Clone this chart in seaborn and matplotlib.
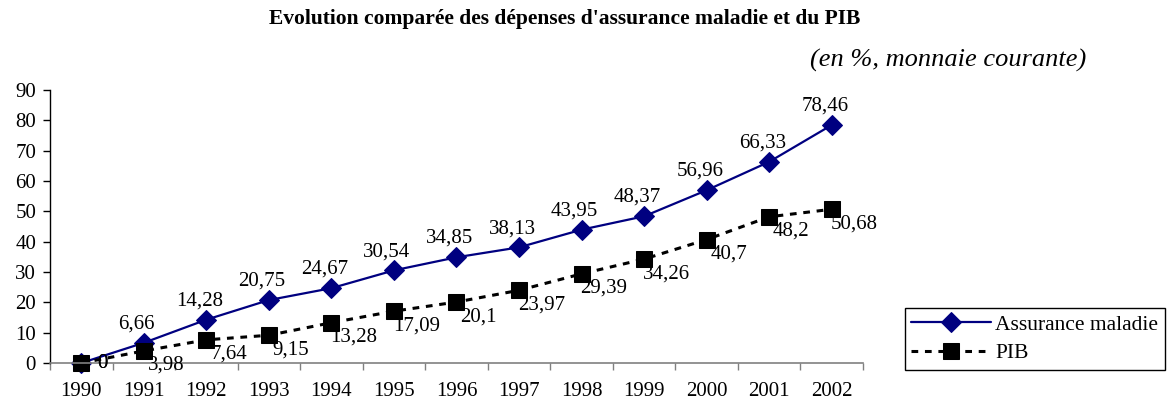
import numpy as np
import pandas as pd
import seaborn as sns
import matplotlib.pyplot as plt

# data
years = ["1990", "1991", "1992", "1993", "1994", "1995", "1996",
         "1997", "1998", "1999", "2000", "2001", "2002"]
assurance = [0, 6.66, 14.28, 20.75, 24.67, 30.54, 34.85,
             38.13, 43.95, 48.37, 56.96, 66.33, 78.46]
pib = [0, 3.98, 7.64, 9.15, 13.28, 17.09, 20.1,
       23.97, 29.39, 34.26, 40.7, 48.2, 50.68]
yticks = [0, 10, 20, 30, 40, 50, 60, 70, 80, 90]

sns.set_style("white")
plt.rcParams['font.family'] = ['Liberation Serif', 'DejaVu Serif']
plt.rcParams['text.color'] = 'black'
plt.rcParams['xtick.color'] = 'black'
plt.rcParams['ytick.color'] = 'black'
plt.rcParams['axes.labelcolor'] = 'black'

df = pd.DataFrame({"pos": np.arange(len(years)), "year": years,
                   "Assurance maladie": assurance, "PIB": pib})

fig = plt.figure(figsize=(11.7, 4.03), dpi=100)
ax = fig.add_axes([50 / 1170, 40 / 403, 813 / 1170, 273 / 403])

sns.lineplot(data=df, x="pos", y="Assurance maladie", ax=ax, color="#000080",
             marker="D", markersize=10, markeredgecolor="#000080",
             linewidth=1.6, label="Assurance maladie")
sns.lineplot(data=df, x="pos", y="PIB", ax=ax, color="black",
             marker="s", markersize=11.5, markeredgecolor="black",
             linewidth=2.2, linestyle=(0, (2.2, 2.2)), label="PIB")


def fmt(v):
    return f"{v:g}".replace(".", ",")


# data labels, Excel style (zeros go to the right of the point)
for i, v in enumerate(assurance):
    off = (15, 0) if v == 0 else (-5, 13.5)
    ax.annotate(fmt(v), (i, v), xytext=off, textcoords="offset points",
                ha="center", va="center", fontsize=15, color="black")
for i, v in enumerate(pib):
    off = (15, 0) if v == 0 else (16, -10.5)
    ax.annotate(fmt(v), (i, v), xytext=off, textcoords="offset points",
                ha="center", va="center", fontsize=15, color="black")

ax.set_xlim(-0.5, len(years) - 0.5)
ax.set_ylim(0, 90)
ax.set_yticks(yticks)
ax.set_yticklabels([str(t) for t in yticks], fontsize=15)
ax.set_xticks(np.arange(len(years)))
ax.set_xticklabels(years, fontsize=15)
ax.set_xticks(np.arange(len(years) + 1) - 0.5, minor=True)
ax.tick_params(axis="x", which="major", length=0, pad=14, labelcolor="black")
ax.tick_params(axis="x", which="minor", length=5, width=1, color="#808080",
               direction="out", bottom=True)
ax.tick_params(axis="y", length=5, width=1, color="black", direction="out",
               left=True, pad=5, labelcolor="black")
ax.set_xlabel("")
ax.set_ylabel("")

for s in ["top", "right"]:
    ax.spines[s].set_visible(False)
ax.spines["left"].set_color("black")
ax.spines["left"].set_linewidth(1)
ax.spines["bottom"].set_color("#808080")
ax.spines["bottom"].set_linewidth(1.2)
for line in ax.lines:
    line.set_clip_on(False)

leg = ax.legend(loc="upper left", bbox_to_anchor=(905 / 1170, 1 - 308 / 403),
                bbox_transform=fig.transFigure, frameon=True, fancybox=False,
                edgecolor="black", framealpha=1, fontsize=15.5,
                handlelength=3.7, handletextpad=0.2, borderpad=0.3,
                labelspacing=0.4, borderaxespad=0, labelcolor="black")
leg.get_frame().set_linewidth(1)

fig.text(565 / 1170, 1 - 19 / 403, "Evolution comparée des dépenses d'assurance maladie et du PIB",
         ha="center", va="center", fontsize=15.5, fontweight="bold", color="black")
fig.text(1086 / 1170, 1 - 60 / 403, "(en %, monnaie courante)",
         ha="right", va="center", fontsize=19, style="italic", color="black")

fig.savefig("out.png", dpi=100)
